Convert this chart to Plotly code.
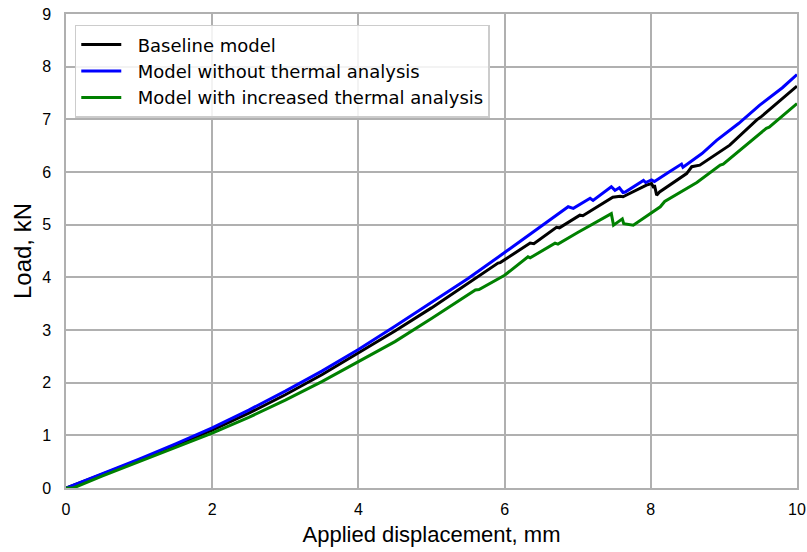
import plotly.graph_objects as go

# Load-displacement curves for three model variants
baseline_disp = [0, 0.5, 1, 1.5, 2, 2.5, 3, 3.5, 4, 4.5, 5, 5.5, 5.91, 5.94, 6.35, 6.40,
                 6.71, 6.75, 7.03, 7.07, 7.44, 7.48, 7.58, 7.62, 7.94, 8.01, 8.04, 8.05,
                 8.08, 8.12, 8.49, 8.56, 8.67, 9.08, 9.45, 9.52, 10]
baseline_load = [0, 0.26, 0.53, 0.81, 1.10, 1.42, 1.77, 2.15, 2.56, 2.98, 3.42, 3.88, 4.27, 4.28,
                 4.65, 4.64, 4.95, 4.94, 5.18, 5.17, 5.50, 5.52, 5.54, 5.53, 5.75, 5.78, 5.70,
                 5.75, 5.56, 5.62, 5.97, 6.10, 6.13, 6.51, 6.99, 7.06, 7.63]

no_thermal_disp = [0, 0.5, 1, 1.5, 2, 2.5, 3, 3.5, 4, 4.5, 5, 5.5, 6.0, 6.07, 6.10, 6.5, 6.87,
                   6.94, 7.17, 7.21, 7.46, 7.51, 7.57, 7.62, 7.65, 7.90, 7.93, 8.01, 8.05, 8.26,
                   8.42, 8.44, 8.7, 8.90, 9.2, 9.49, 9.61, 9.8, 10]
no_thermal_load = [0, 0.27, 0.55, 0.84, 1.14, 1.48, 1.84, 2.22, 2.63, 3.07, 3.52, 3.98, 4.47,
                   4.54, 4.58, 4.97, 5.34, 5.31, 5.50, 5.46, 5.72, 5.65, 5.70, 5.61, 5.62, 5.84,
                   5.80, 5.85, 5.82, 6.01, 6.15, 6.09, 6.35, 6.60, 6.92, 7.27, 7.40, 7.60, 7.85]

inc_thermal_disp = [0, 0.1, 0.5, 1, 1.5, 2, 2.5, 3, 3.5, 4, 4.5, 5, 5.60, 5.65, 6.0, 6.32,
                    6.35, 6.69, 6.73, 7.0, 7.46, 7.49, 7.58, 7.61, 7.63, 7.76, 8.13, 8.19,
                    8.63, 8.95, 8.99, 9.58, 9.62, 10]
inc_thermal_load = [0, 0, 0.23, 0.50, 0.77, 1.04, 1.34, 1.67, 2.02, 2.40, 2.78, 3.22, 3.76,
                    3.77, 4.04, 4.39, 4.37, 4.65, 4.63, 4.85, 5.21, 4.99, 5.09, 5.11, 5.02,
                    4.99, 5.34, 5.44, 5.80, 6.13, 6.15, 6.83, 6.85, 7.30]

series_names = ["Baseline model", "Model without thermal analysis",
                "Model with increased thermal analysis"]
x_ticks = [0, 2, 4, 6, 8, 10]
y_ticks = list(range(0, 10))

GRID = "#b0b0b0"
SANS = "Liberation Sans, Arial"

fig = go.Figure()
for name, xs, ys, col in [
    (series_names[0], baseline_disp, baseline_load, "#000000"),
    (series_names[1], no_thermal_disp, no_thermal_load, "#0000ff"),
    (series_names[2], inc_thermal_disp, inc_thermal_load, "#008000"),
]:
    fig.add_trace(go.Scatter(x=xs, y=ys, mode="lines", name="\u00a0\u00a0" + name,
                             line=dict(color=col, width=3)))

axis_common = dict(
    showgrid=True, gridcolor=GRID, gridwidth=1.5,
    showline=True, linecolor=GRID, linewidth=1.5, mirror=True,
    zeroline=False, ticks="", automargin=False,
    tickfont=dict(family=SANS, size=16, color="#000000"),
)

fig.update_layout(
    width=807, height=552,
    margin=dict(l=66, r=10, t=14, b=64),
    paper_bgcolor="white", plot_bgcolor="white",
    showlegend=True,
    legend=dict(
        x=0.012, y=0.977, xanchor="left", yanchor="top",
        bgcolor="rgba(255,255,255,0.85)", bordercolor="#cccccc", borderwidth=1.5,
        font=dict(family="DejaVu Sans", size=18, color="#000000"),
        tracegroupgap=0, itemwidth=40,
    ),
    xaxis=dict(range=[0, 10], tickvals=x_ticks, ticklabelstandoff=6,
               title=dict(text="Applied displacement, mm", standoff=10,
                          font=dict(family=SANS, size=22, color="#000000")),
               **axis_common),
    yaxis=dict(range=[0, 9], tickvals=y_ticks, ticklabelstandoff=10,
               title=dict(text="Load, kN", standoff=4,
                          font=dict(family=SANS, size=24, color="#000000")),
               **axis_common),
)

fig.write_html("out.html")
